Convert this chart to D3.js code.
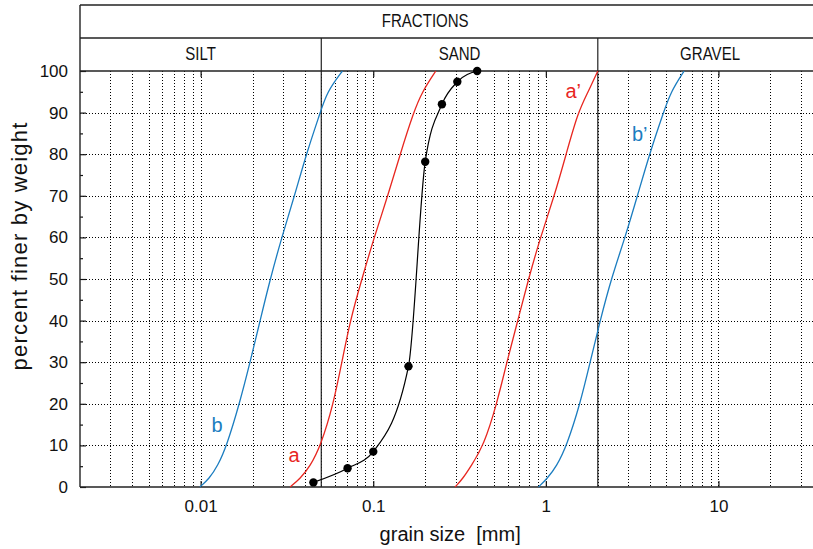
<!DOCTYPE html>
<html>
<head>
<meta charset="utf-8">
<script src="https://cdn.jsdelivr.net/npm/d3@7"></script>
<style>
    html, body { margin: 0; padding: 0; background: #fff; overflow: hidden; }
    svg { display: block; }
    svg text { font-family: "Liberation Sans", Arial, Helvetica, sans-serif; fill: #111; }
</style>
</head>
<body>
<svg id="chart" width="813" height="549"></svg>
<script>
// percent finer by weight, shared by the four reference curves
var levels = [ 0, 2, 5, 10, 20, 30, 40, 50, 60, 70, 80, 90, 95, 100 ];

// grain sizes [mm] at each level
var sizeA  = [ 0.0330, 0.0377, 0.0431, 0.0497, 0.0588, 0.0658, 0.0735, 0.0859, 0.1012, 0.1215, 0.1432, 0.171, 0.192, 0.2305 ],
    sizeA2 = [ 0.298, 0.33, 0.368, 0.437, 0.52, 0.594, 0.688, 0.793, 0.93, 1.121, 1.311, 1.532, 1.76, 2.0 ],
    sizeB  = [ 0.0099, 0.0112, 0.01254, 0.01418, 0.01678, 0.01935, 0.0221, 0.0253, 0.0295, 0.035, 0.0409, 0.0493, 0.054, 0.0663 ],
    sizeB2 = [ 0.906, 1.017, 1.155, 1.323, 1.58, 1.806, 2.064, 2.389, 2.88, 3.394, 3.983, 4.801, 5.3, 6.33 ];

// measured sample
var sampleSize    = [ 0.045, 0.071, 0.1, 0.16, 0.2, 0.25, 0.307, 0.4 ],
    samplePercent = [ 1.1, 4.5, 8.5, 29, 78.2, 92, 97.4, 100 ];

var decades = [ 0.01, 0.1, 1, 10 ],
    yTicks = [ 0, 10, 20, 30, 40, 50, 60, 70, 80, 90, 100 ],
    yMinor = [ 5, 15, 25, 35, 45, 55, 65, 75, 85, 95 ];

var fractions = [
    { name: 'SILT', from: 0.002, to: 0.05 },
    { name: 'SAND', from: 0.05, to: 2 },
    { name: 'GRAVEL', from: 2, to: 40 }
];

var red = '#e8261f',
    blue = '#1b7dc0';

var svg = d3.select( '#chart' ),
    top0 = 5,
    top1 = 38,
    top2 = 71,
    bottom = 487,
    left = 80,
    decadePx = 172.6;

var x = d3.scaleLog()
    .domain( [ 0.002, 40 ] )
    .range( [ left, left + Math.log10( 40 / 0.002 ) * decadePx ] );

var y = d3.scaleLinear()
    .domain( [ 0, 100 ] )
    .range( [ bottom, top2 ] );

var right = x.range()[ 1 ];

// grid
var grid = svg.append( 'g' )
    .attr( 'stroke', '#000' )
    .attr( 'stroke-width', 1 )
    .attr( 'stroke-dasharray', '1,2' );

x.ticks().filter( function( d ) { return d > 0.0021 && d < 39; } ).forEach( function( d ) {
    grid.append( 'line' )
        .attr( 'x1', Math.round( x( d ) ) + 0.5 ).attr( 'x2', Math.round( x( d ) ) + 0.5 )
        .attr( 'y1', top2 ).attr( 'y2', bottom );
} );

yTicks.slice( 1, -1 ).forEach( function( d ) {
    grid.append( 'line' )
        .attr( 'x1', left ).attr( 'x2', right )
        .attr( 'y1', Math.round( y( d ) ) + 0.5 ).attr( 'y2', Math.round( y( d ) ) + 0.5 );
} );

// axes
var xAxis = d3.axisBottom( x )
    .tickValues( decades )
    .tickSizeInner( -6 )
    .tickSizeOuter( 0 )
    .tickPadding( 13 )
    .tickFormat( d3.format( '~g' ) );

svg.append( 'g' )
    .attr( 'transform', 'translate(0,' + bottom + ')' )
    .call( xAxis );

svg.append( 'g' )
    .attr( 'transform', 'translate(0,' + top2 + ')' )
    .call( d3.axisTop( x ).tickValues( decades ).tickSizeInner( -6 ).tickSizeOuter( 0 ).tickFormat( '' ) );

svg.append( 'g' )
    .attr( 'transform', 'translate(' + left + ',0)' )
    .call( d3.axisLeft( y ).tickValues( yTicks ).tickSizeInner( -6 ).tickSizeOuter( 0 ).tickPadding( 12 ) );

svg.append( 'g' )
    .attr( 'transform', 'translate(' + left + ',0)' )
    .call( d3.axisLeft( y ).tickValues( yMinor ).tickSizeInner( -3 ).tickSizeOuter( 0 ).tickFormat( '' ) );

svg.selectAll( '.domain' ).remove();
svg.selectAll( '.tick line' ).attr( 'stroke', '#111' ).attr( 'stroke-width', 1.2 );
svg.selectAll( '.tick text' )
    .attr( 'font-size', 17 )
    .style( 'font-family', '"Liberation Sans", Arial, sans-serif' )
    .attr( 'fill', '#111' );

// frame and fraction header
var frame = svg.append( 'g' )
    .attr( 'stroke', '#222' )
    .attr( 'stroke-width', 1.4 )
    .attr( 'fill', 'none' );

[ top0, top1, top2, bottom ].forEach( function( yy ) {
    frame.append( 'line' ).attr( 'x1', left ).attr( 'x2', right ).attr( 'y1', yy ).attr( 'y2', yy );
} );

frame.append( 'line' ).attr( 'x1', left ).attr( 'x2', left ).attr( 'y1', top0 ).attr( 'y2', bottom );

[ 0.05, 2 ].forEach( function( d ) {
    frame.append( 'line' )
        .attr( 'x1', x( d ) ).attr( 'x2', x( d ) )
        .attr( 'y1', top1 ).attr( 'y2', bottom )
        .attr( 'stroke-width', 1.2 );
} );

function headerText( label, cx, cy ) {
    svg.append( 'text' )
        .attr( 'transform', 'translate(' + cx + ',' + cy + ') scale(0.86,1)' )
        .attr( 'text-anchor', 'middle' )
        .attr( 'font-size', 17.5 )
        .text( label );
}

headerText( 'FRACTIONS', x( 0.2 ), 27 );

fractions.forEach( function( f ) {
    headerText( f.name, ( x( f.from ) + x( f.to ) ) / 2, 60 );
} );

// curves
var smooth = d3.line()
    .x( function( d ) { return x( d[ 0 ] ); } )
    .y( function( d ) { return y( d[ 1 ] ); } )
    .curve( d3.curveBasis );

var through = d3.line()
    .x( function( d ) { return x( d[ 0 ] ); } )
    .y( function( d ) { return y( d[ 1 ] ); } )
    .curve( d3.curveMonotoneX );

function pairs( sizes, pct ) {
    return sizes.map( function( s, i ) { return [ s, pct[ i ] ]; } );
}

[
    [ sizeB, blue ],
    [ sizeB2, blue ],
    [ sizeA, red ],
    [ sizeA2, red ]
].forEach( function( c ) {
    svg.append( 'path' )
        .datum( pairs( c[ 0 ], levels ) )
        .attr( 'd', smooth )
        .attr( 'fill', 'none' )
        .attr( 'stroke', c[ 1 ] )
        .attr( 'stroke-width', 1.3 );
} );

var sample = pairs( sampleSize, samplePercent );

svg.append( 'path' )
    .datum( sample )
    .attr( 'd', through )
    .attr( 'fill', 'none' )
    .attr( 'stroke', '#000' )
    .attr( 'stroke-width', 1.2 );

svg.selectAll( 'circle.sample' )
    .data( sample )
    .enter().append( 'circle' )
    .attr( 'class', 'sample' )
    .attr( 'cx', function( d ) { return x( d[ 0 ] ); } )
    .attr( 'cy', function( d ) { return y( d[ 1 ] ); } )
    .attr( 'r', 4.2 )
    .attr( 'fill', '#000' );

// curve labels
[
    { t: 'b', c: blue, s: 0.01246, p: 13.2 },
    { t: 'a', c: red, s: 0.0348, p: 6.1 },
    { t: 'a\u2019', c: red, s: 1.44, p: 93.5 },
    { t: 'b\u2019', c: blue, s: 3.5, p: 83.2 }
].forEach( function( l ) {
    svg.append( 'text' )
        .attr( 'x', x( l.s ) )
        .attr( 'y', y( l.p ) )
        .attr( 'text-anchor', 'middle' )
        .attr( 'font-size', 20 )
        .style( 'fill', l.c )
        .text( l.t );
} );

// axis titles
svg.append( 'text' )
    .attr( 'x', ( left + right ) / 2 - 1 )
    .attr( 'y', 541 )
    .attr( 'text-anchor', 'middle' )
    .attr( 'font-size', 20 )
    .attr( 'xml:space', 'preserve' )
    .style( 'white-space', 'pre' )
    .text( 'grain size  [mm]' );

svg.append( 'text' )
    .attr( 'transform', 'translate(27,246) rotate(-90)' )
    .attr( 'text-anchor', 'middle' )
    .attr( 'font-size', 22 )
    .attr( 'letter-spacing', 1.2 )
    .text( 'percent finer by weight' );
</script>
</body>
</html>
